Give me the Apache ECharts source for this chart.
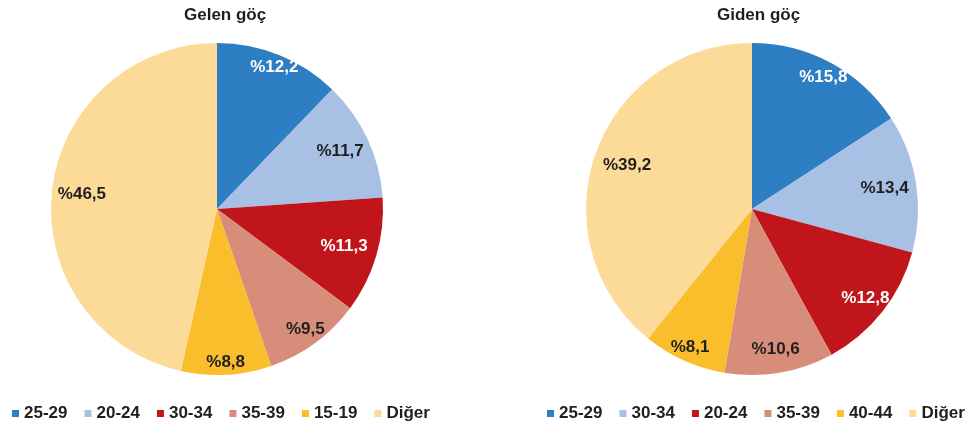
<!DOCTYPE html>
<html>
<head>
<meta charset="utf-8">
<script src="https://cdn.jsdelivr.net/npm/echarts@6/dist/echarts.min.js"></script>
<style>
  html, body { margin: 0; padding: 0; background: #fff; }
  #chart { width: 968px; height: 427px; }
</style>
</head>
<body>
<div id="chart"></div>
<script>
// Incoming migration (Gelen göç): age groups and shares (%)
const inAges = ['25-29', '20-24', '30-34', '35-39', '15-19', 'Diğer'];
const inShares = [12.2, 11.7, 11.3, 9.5, 8.8, 46.5];

// Outgoing migration (Giden göç): age groups and shares (%)
const outAges = ['25-29', '30-34', '20-24', '35-39', '40-44', 'Diğer'];
const outShares = [15.8, 13.4, 12.8, 10.6, 8.1, 39.2];

const titles = ['Gelen göç', 'Giden göç'];

// Styling: slice colours by rank, label colours, radial label placement
const sliceColors = ['#2e7ec4', '#a8c0e3', '#c0161b', '#d88c7a', '#fabd2b', '#fcda98'];
const labelColors = ['#ffffff', '#1f1f1f', '#ffffff', '#1f1f1f', '#1f1f1f', '#1f1f1f'];
const inLabelRadius = [0.89, 0.79, 0.77, 0.87, 0.89, 0.79];
const outLabelRadius = [0.87, 0.78, 0.84, 0.83, 0.88, 0.77];

const FONT = "'Liberation Sans', Arial, sans-serif";
const R = 166;
const IN_CENTER = [217, 209];
const OUT_CENTER = [752, 209];

function fmt(v) {
  return '%' + v.toFixed(1).replace('.', ',');
}

function pieSeries(names, values, center, radii) {
  return {
    type: 'pie',
    center: center,
    radius: [0, R],
    startAngle: 90,
    clockwise: true,
    avoidLabelOverlap: false,
    silent: true,
    data: names.map((n, i) => ({
      name: n,
      value: values[i],
      itemStyle: { color: sliceColors[i] },
      label: { color: labelColors[i] }
    })),
    label: {
      show: true,
      position: 'inside',
      formatter: p => fmt(p.value),
      fontFamily: FONT,
      fontWeight: 'bold',
      fontSize: 17
    },
    labelLine: { show: false },
    // Inside labels start at half radius; push each one out along its own ray
    labelLayout: function (p) {
      const k = radii[p.dataIndex] / 0.5;
      const lx = p.labelRect.x + p.labelRect.width / 2;
      const ly = p.labelRect.y + p.labelRect.height / 2;
      return { dx: (lx - center[0]) * (k - 1), dy: (ly - center[1]) * (k - 1) };
    }
  };
}

function legendFor(names, left) {
  return {
    left: left,
    top: 405,
    width: 450,
    padding: 0,
    orient: 'horizontal',
    icon: 'rect',
    itemWidth: 7,
    itemHeight: 7,
    itemGap: 17,
    selectedMode: false,
    textStyle: { fontFamily: FONT, fontWeight: 'bold', fontSize: 17, color: '#1f1f1f' },
    data: names.map((n, i) => ({ name: n, itemStyle: { color: sliceColors[i] } }))
  };
}

const titleText = { fontFamily: FONT, fontWeight: 'bold', fontSize: 17, color: '#1f1f1f' };

const chart = echarts.init(document.getElementById('chart'), null, { renderer: 'canvas' });
chart.setOption({
  animation: false,
  backgroundColor: '#ffffff',
  title: [
    { text: titles[0], left: 179, top: 2, textStyle: titleText },
    { text: titles[1], left: 712, top: 2, textStyle: titleText }
  ],
  legend: [legendFor(inAges, 12), legendFor(outAges, 547)],
  series: [
    pieSeries(inAges, inShares, IN_CENTER, inLabelRadius),
    pieSeries(outAges, outShares, OUT_CENTER, outLabelRadius)
  ]
});
</script>
</body>
</html>
